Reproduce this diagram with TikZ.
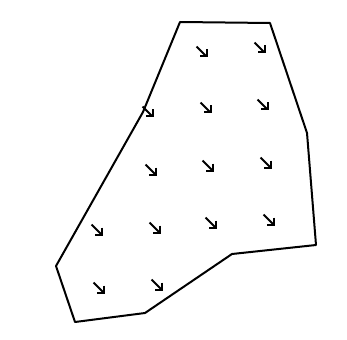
\documentclass[tikz,border=0pt]{standalone}
\usetikzlibrary{arrows.meta}

\begin{document}
\begin{tikzpicture}[x=1pt, y=-1pt,
    flow/.style={line width=2pt, -{Straight Barb[angle=90:7pt, line width=2pt]}}]
    \useasboundingbox (0,0) rectangle (347,339);

    % boundary
    \draw[line width=2pt, line join=round] (180,22) -- (270,23) -- (307,133) -- (316,245) -- (232,254)
        -- (145,313) -- (75,322) -- (56,266) -- (143,112) -- cycle;

    % field arrows
    \foreach \cx/\cy in {202/52, 260/48,
                         148/112, 206/108, 263/105,
                         151/170, 208/166, 266/163,
                         97/230, 155/228, 211/223, 269/220,
                         99/288, 157/285}
        \draw[flow] (\cx-5.5,\cy-5.5) -- (\cx+5.5,\cy+5.5);
  \end{tikzpicture}
\end{document}
